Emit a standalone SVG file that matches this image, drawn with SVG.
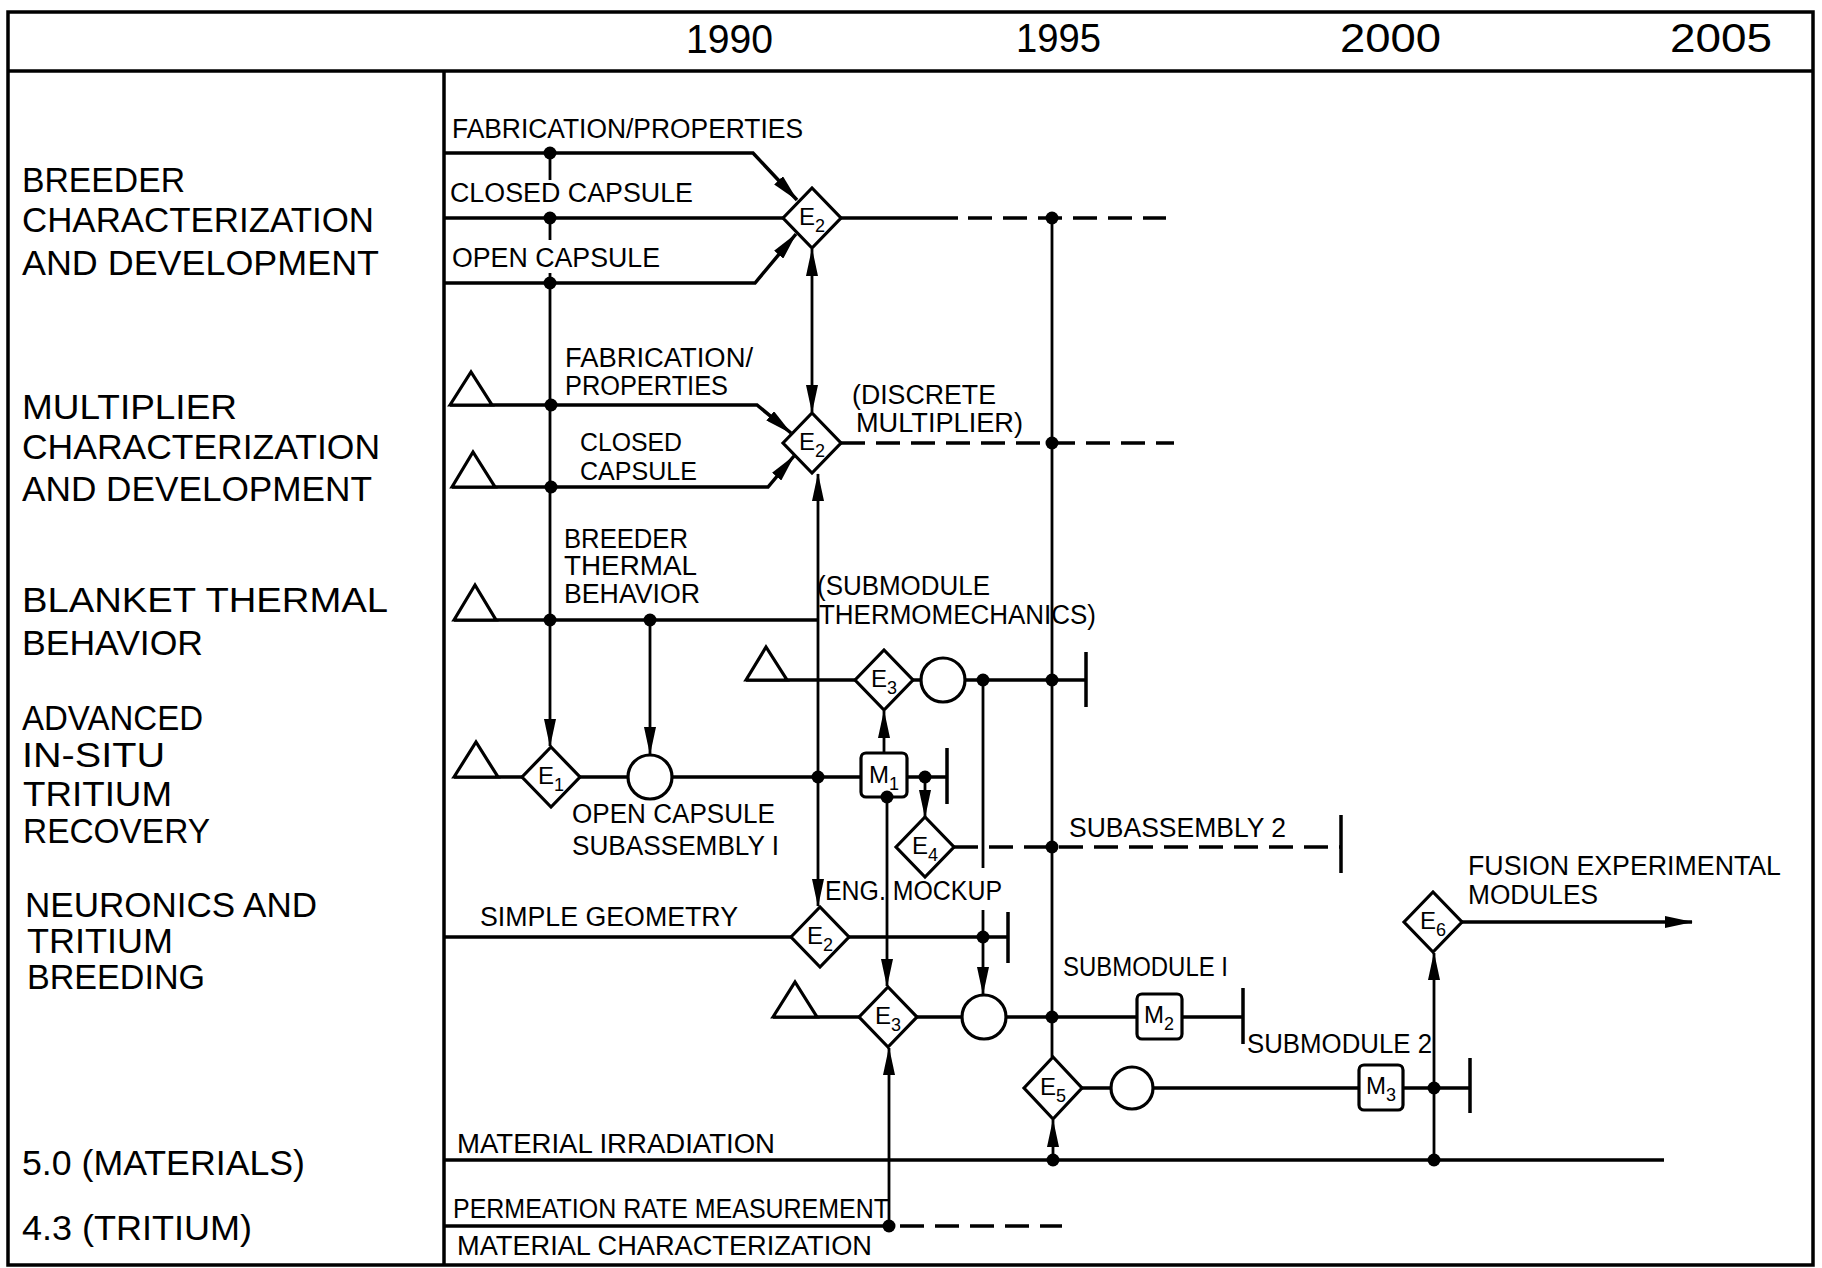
<svg xmlns="http://www.w3.org/2000/svg" width="1822" height="1268" viewBox="0 0 1822 1268">
<defs>
<style>
.ln{fill:none;stroke:#000;stroke-width:3.5}
.v{stroke-width:2.8}
.d{stroke-dasharray:24 11}
.sh{fill:#fff;stroke:#000;stroke-width:3.2}
.dot{fill:#000}
text{font-family:"Liberation Sans",Arial,sans-serif;fill:#000}
.t{font-size:27px}
.t2{font-size:25px}
.lt{font-size:35px}
.yr{font-size:40px}
.e{font-size:24px}
.s{font-size:18px}
.ar{marker-end:url(#ah)}
.ar2{marker-start:url(#ah);marker-end:url(#ah)}
</style>
<marker id="ah" markerUnits="userSpaceOnUse" markerWidth="28" markerHeight="12" refX="27" refY="6" orient="auto-start-reverse"><path d="M0,0 L28,6 L0,12 z" fill="#000"/></marker>
</defs>
<rect width="1822" height="1268" fill="#fff"/>
<g id="frame" class="ln">
<rect x="8" y="12" width="1805" height="1253"/>
<line x1="8" y1="71" x2="1813" y2="71"/>
<line x1="444" y1="71" x2="444" y2="1265"/>
</g>
<g id="years" class="yr">
<text x="686" y="53" textLength="87" lengthAdjust="spacingAndGlyphs">1990</text>
<text x="1016" y="52" textLength="85" lengthAdjust="spacingAndGlyphs">1995</text>
<text x="1340" y="52" textLength="101" lengthAdjust="spacingAndGlyphs">2000</text>
<text x="1670" y="52" textLength="102" lengthAdjust="spacingAndGlyphs">2005</text>
</g>
<g id="row-labels" class="lt">
<text x="22" y="192" textLength="163" lengthAdjust="spacingAndGlyphs">BREEDER</text>
<text x="22" y="232" textLength="352" lengthAdjust="spacingAndGlyphs">CHARACTERIZATION</text>
<text x="22" y="275" textLength="357" lengthAdjust="spacingAndGlyphs">AND DEVELOPMENT</text>
<text x="22" y="419" textLength="215" lengthAdjust="spacingAndGlyphs">MULTIPLIER</text>
<text x="22" y="459" textLength="358" lengthAdjust="spacingAndGlyphs">CHARACTERIZATION</text>
<text x="22" y="501" textLength="350" lengthAdjust="spacingAndGlyphs">AND DEVELOPMENT</text>
<text x="22" y="612" textLength="366" lengthAdjust="spacingAndGlyphs">BLANKET THERMAL</text>
<text x="22" y="655" textLength="181" lengthAdjust="spacingAndGlyphs">BEHAVIOR</text>
<text x="22" y="730" textLength="181" lengthAdjust="spacingAndGlyphs">ADVANCED</text>
<text x="22" y="767" textLength="143" lengthAdjust="spacingAndGlyphs">IN-SITU</text>
<text x="23" y="806" textLength="149" lengthAdjust="spacingAndGlyphs">TRITIUM</text>
<text x="23" y="843" textLength="187" lengthAdjust="spacingAndGlyphs">RECOVERY</text>
<text x="25" y="917" textLength="292" lengthAdjust="spacingAndGlyphs">NEURONICS AND</text>
<text x="27" y="953" textLength="146" lengthAdjust="spacingAndGlyphs">TRITIUM</text>
<text x="27" y="989" textLength="178" lengthAdjust="spacingAndGlyphs">BREEDING</text>
<text x="22" y="1175" textLength="283" lengthAdjust="spacingAndGlyphs">5.0 (MATERIALS)</text>
<text x="22" y="1240" textLength="230" lengthAdjust="spacingAndGlyphs">4.3 (TRITIUM)</text>
</g>
<g id="connectors" class="ln">
<path class="ar" d="M444,153 H753 L797,200"/>
<path d="M444,218 H783"/>
<path class="ar" d="M444,283 H755 L796,234"/>
<path class="v" d="M550,153 V180 M550,218 V240"/>
<path class="v ar" d="M550,273 V746"/>
<path d="M841,218 H958"/>
<path class="d" d="M968,218 H1166"/>
<path class="v ar2" d="M812,249 V412"/>
<path class="ar" d="M450,405 H757 L791,433"/>
<path class="ar" d="M452,487 H768 L794,456"/>
<path class="d" d="M841,443 H1174"/>
<path class="v ar2" d="M818,474 V906"/>
<path d="M454,620 H818"/>
<path class="v ar" d="M650,620 V754"/>
<path d="M454,777 H522 M580,777 H628 M672,777 H861 M907,777 H947 M947,748 V804"/>
<path class="v ar" d="M925,777 V817"/>
<path class="v ar" d="M884,753 V711"/>
<path d="M746,680 H855 M913,680 H921 M965,680 H1086 M1086,652 V707"/>
<path class="v" d="M983,680 V868"/>
<path class="v ar" d="M983,910 V994"/>
<path class="v" d="M1052,218 V1057"/>
<path class="d" d="M954,847 H1341"/>
<path d="M1341,815 V873"/>
<path class="v ar" d="M887,797 V986"/>
<path d="M444,937 H791 M849,937 H1008 M1008,912 V963"/>
<path d="M773,1017 H859 M917,1017 H962 M1006,1017 H1137 M1182,1017 H1243 M1243,988 V1044"/>
<path d="M1082,1088 H1111 M1153,1088 H1359 M1403,1088 H1470 M1470,1058 V1113"/>
<path class="v ar" d="M1434,1160 V953"/>
<path class="ar" d="M1462,922 H1692"/>
<path class="v ar" d="M1053,1160 V1120"/>
<path d="M444,1160 H1664"/>
<path d="M444,1226 H890"/>
<path class="d" d="M900,1226 H1062"/>
<path class="v ar" d="M889,1226 V1048"/>
</g>
<g id="T1"><path class="sh" d="M450,405 L471,372 L492,405 Z"/></g>
<g id="T2"><path class="sh" d="M452,487 L473,452 L495,487 Z"/></g>
<g id="T3"><path class="sh" d="M454,620 L475,585 L496,620 Z"/></g>
<g id="T4"><path class="sh" d="M454,777 L476,742 L498,777 Z"/></g>
<g id="T5"><path class="sh" d="M746,680 L766,647 L787,680 Z"/></g>
<g id="T6"><path class="sh" d="M773,1017 L795,982 L817,1017 Z"/></g>
<g id="E2-breeder"><path class="sh" d="M783,218 L812,188 L841,218 L812,248 Z"/><text class="e" x="812" y="225" text-anchor="middle">E<tspan class="s" dy="7">2</tspan></text></g>
<g id="E2-multiplier"><path class="sh" d="M783,443 L812,413 L841,443 L812,473 Z"/><text class="e" x="812" y="450" text-anchor="middle">E<tspan class="s" dy="7">2</tspan></text></g>
<g id="E1"><path class="sh" d="M522,777 L551,747 L580,777 L551,807 Z"/><text class="e" x="551" y="784" text-anchor="middle">E<tspan class="s" dy="7">1</tspan></text></g>
<g id="C1"><circle class="sh" cx="650" cy="777" r="22"/></g>
<g id="E3-blanket"><path class="sh" d="M855,680 L884,650 L913,680 L884,710 Z"/><text class="e" x="884" y="687" text-anchor="middle">E<tspan class="s" dy="7">3</tspan></text></g>
<g id="C2"><circle class="sh" cx="943" cy="680" r="22"/></g>
<g id="M1"><rect class="sh" x="861" y="753" width="46" height="44" rx="5"/><text class="e" x="884" y="783" text-anchor="middle">M<tspan class="s" dy="7">1</tspan></text></g>
<g id="E4"><path class="sh" d="M896,847 L925,817 L954,847 L925,877 Z"/><text class="e" x="925" y="854" text-anchor="middle">E<tspan class="s" dy="7">4</tspan></text></g>
<g id="E2-neutronics"><path class="sh" d="M791,937 L820,907 L849,937 L820,967 Z"/><text class="e" x="820" y="944" text-anchor="middle">E<tspan class="s" dy="7">2</tspan></text></g>
<g id="E3-neutronics"><path class="sh" d="M859,1017 L888,987 L917,1017 L888,1047 Z"/><text class="e" x="888" y="1024" text-anchor="middle">E<tspan class="s" dy="7">3</tspan></text></g>
<g id="C3"><circle class="sh" cx="984" cy="1017" r="22"/></g>
<g id="M2"><rect class="sh" x="1137" y="994" width="45" height="45" rx="5"/><text class="e" x="1159" y="1023" text-anchor="middle">M<tspan class="s" dy="7">2</tspan></text></g>
<g id="E5"><path class="sh" d="M1024,1088 L1053,1057 L1082,1088 L1053,1119 Z"/><text class="e" x="1053" y="1095" text-anchor="middle">E<tspan class="s" dy="7">5</tspan></text></g>
<g id="C4"><circle class="sh" cx="1132" cy="1088" r="21"/></g>
<g id="M3"><rect class="sh" x="1359" y="1065" width="44" height="45" rx="5"/><text class="e" x="1381" y="1094" text-anchor="middle">M<tspan class="s" dy="7">3</tspan></text></g>
<g id="E6"><path class="sh" d="M1404,922 L1433,892 L1462,922 L1433,952 Z"/><text class="e" x="1433" y="929" text-anchor="middle">E<tspan class="s" dy="7">6</tspan></text></g>
<g id="junctions" class="dot">
<circle cx="550" cy="153" r="6.5"/><circle cx="550" cy="218" r="6.5"/><circle cx="550" cy="283" r="6.5"/>
<circle cx="1052" cy="218" r="6.5"/><circle cx="551" cy="405" r="6.5"/><circle cx="551" cy="487" r="6.5"/>
<circle cx="1052" cy="443" r="6.5"/><circle cx="550" cy="620" r="6.5"/><circle cx="650" cy="620" r="6.5"/>
<circle cx="818" cy="777" r="6.5"/><circle cx="925" cy="777" r="6.5"/><circle cx="887" cy="797" r="6.5"/>
<circle cx="983" cy="680" r="6.5"/><circle cx="1052" cy="680" r="6.5"/><circle cx="1052" cy="847" r="6.5"/>
<circle cx="983" cy="937" r="6.5"/><circle cx="1052" cy="1017" r="6.5"/><circle cx="1434" cy="1088" r="6.5"/>
<circle cx="1053" cy="1160" r="6.5"/><circle cx="1434" cy="1160" r="6.5"/><circle cx="889" cy="1226" r="6.5"/>
</g>
<g id="labels" class="t">
<text x="452" y="138" textLength="351" lengthAdjust="spacingAndGlyphs">FABRICATION/PROPERTIES</text>
<text x="450" y="202" textLength="243" lengthAdjust="spacingAndGlyphs">CLOSED CAPSULE</text>
<text x="452" y="267" textLength="208" lengthAdjust="spacingAndGlyphs">OPEN CAPSULE</text>
<text x="565" y="367" textLength="188" lengthAdjust="spacingAndGlyphs">FABRICATION/</text>
<text x="565" y="395" textLength="163" lengthAdjust="spacingAndGlyphs">PROPERTIES</text>
<text class="t2" x="580" y="451" textLength="102" lengthAdjust="spacingAndGlyphs">CLOSED</text>
<text class="t2" x="580" y="480" textLength="117" lengthAdjust="spacingAndGlyphs">CAPSULE</text>
<text x="852" y="404" textLength="144" lengthAdjust="spacingAndGlyphs">(DISCRETE</text>
<text x="856" y="432" textLength="167" lengthAdjust="spacingAndGlyphs">MULTIPLIER)</text>
<text x="564" y="548" textLength="124" lengthAdjust="spacingAndGlyphs">BREEDER</text>
<text x="564" y="575" textLength="133" lengthAdjust="spacingAndGlyphs">THERMAL</text>
<text x="564" y="603" textLength="136" lengthAdjust="spacingAndGlyphs">BEHAVIOR</text>
<text x="817" y="595" textLength="173" lengthAdjust="spacingAndGlyphs">(SUBMODULE</text>
<text x="819" y="624" textLength="277" lengthAdjust="spacingAndGlyphs">THERMOMECHANICS)</text>
<text x="572" y="823" textLength="203" lengthAdjust="spacingAndGlyphs">OPEN CAPSULE</text>
<text x="572" y="855" textLength="207" lengthAdjust="spacingAndGlyphs">SUBASSEMBLY I</text>
<text x="1069" y="837" textLength="217" lengthAdjust="spacingAndGlyphs">SUBASSEMBLY 2</text>
<text x="825" y="900" textLength="177" lengthAdjust="spacingAndGlyphs">ENG. MOCKUP</text>
<text x="480" y="926" textLength="258" lengthAdjust="spacingAndGlyphs">SIMPLE GEOMETRY</text>
<text x="1063" y="976" textLength="165" lengthAdjust="spacingAndGlyphs">SUBMODULE I</text>
<text x="1247" y="1053" textLength="185" lengthAdjust="spacingAndGlyphs">SUBMODULE 2</text>
<text x="1468" y="875" textLength="313" lengthAdjust="spacingAndGlyphs">FUSION EXPERIMENTAL</text>
<text x="1468" y="904" textLength="130" lengthAdjust="spacingAndGlyphs">MODULES</text>
<text x="457" y="1153" textLength="318" lengthAdjust="spacingAndGlyphs">MATERIAL IRRADIATION</text>
<text x="453" y="1218" textLength="436" lengthAdjust="spacingAndGlyphs">PERMEATION RATE MEASUREMENT</text>
<text x="457" y="1255" textLength="415" lengthAdjust="spacingAndGlyphs">MATERIAL CHARACTERIZATION</text>
</g>
</svg>
